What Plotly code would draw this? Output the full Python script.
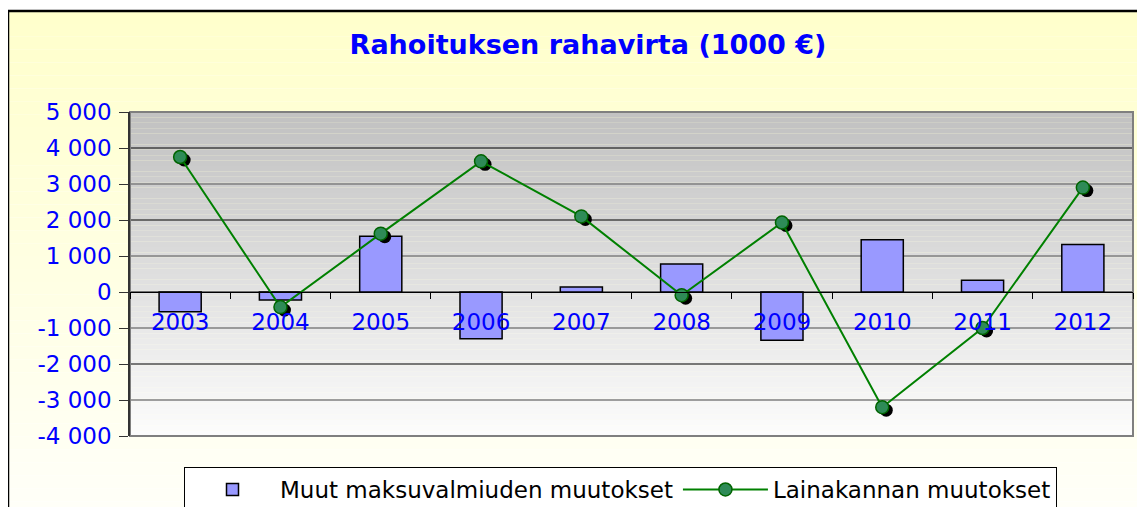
import plotly.graph_objects as go

# ---------------- data ----------------
years = ["2003", "2004", "2005", "2006", "2007", "2008", "2009", "2010", "2011", "2012"]
muut_maksuvalmius = [-550, -220, 1550, -1300, 140, 780, -1340, 1450, 325, 1320]
lainakanta = [3750, -420, 1620, 3630, 2100, -90, 1930, -3200, -1000, 2900]
y_tickvals = [-4000, -3000, -2000, -1000, 0, 1000, 2000, 3000, 4000, 5000]
y_ticktext = [f"{v:,}".replace(",", " ") for v in y_tickvals]
title_text = "Rahoituksen rahavirta (1000 €)"
name_bars = "Muut maksuvalmiuden muutokset"
name_line = "Lainakannan muutokset"

# ---------------- layout constants ----------------
# the page adds an 8px body margin, so the figure is drawn 8px smaller / shifted
OFF = 8
FIG_W, FIG_H = 1145 - OFF, 507 - OFF
PLOT_L, PLOT_R, PLOT_T, PLOT_B = 130 - OFF, 1133 - OFF, 112 - OFF, 436 - OFF
M_L, M_R, M_T, M_B = PLOT_L, FIG_W - PLOT_R, PLOT_T, FIG_H - PLOT_B
PW = PLOT_R - PLOT_L
PH = PLOT_B - PLOT_T
Y_MIN, Y_MAX = y_tickvals[0], y_tickvals[-1]
X_RANGE = [-0.5, len(years) - 0.5]

# shadow offset (pixels) converted into axis units
SH_DX = 4 / (PW / len(years))
SH_DY = 3 * (Y_MAX - Y_MIN) / PH

FONT = "DejaVu Sans"
BLUE = "#0000FF"

fig = go.Figure()

fig.add_trace(go.Bar(
    x=years, y=muut_maksuvalmius, name=name_bars,
    marker=dict(color="#9999FF", line=dict(color="black", width=1.5)),
    width=0.42, xaxis="x", yaxis="y",
))

# shadow of markers
fig.add_trace(go.Scatter(
    x=years, y=lainakanta, mode="markers", showlegend=False, hoverinfo="skip",
    marker=dict(color="black", size=13, line=dict(width=0)),
    xaxis="x2", yaxis="y2",
))

fig.add_trace(go.Scatter(
    x=years, y=lainakanta, name=name_line, mode="lines+markers",
    line=dict(color="#008000", width=2),
    marker=dict(color="#2E8B57", size=13, line=dict(color="#006400", width=1.5)),
    xaxis="x3", yaxis="y3",
))

shapes = []

# yellow chart-area gradient (paper coordinates)
n = 40
x0p = (0 - M_L) / PW
x1p = (FIG_W + 20 - M_L) / PW
y_top_p = (PLOT_B - (11 - OFF)) / PH
y_bot_p = (PLOT_B - (FIG_H + 20)) / PH
for i in range(n):
    t = i / (n - 1)
    c = (255, 255, int(204 + (250 - 204) * t))
    ya = y_top_p - (y_top_p - y_bot_p) * i / n
    yb = y_top_p - (y_top_p - y_bot_p) * (i + 1) / n
    shapes.append(dict(type="rect", xref="paper", yref="paper", x0=x0p, x1=x1p,
                       y0=yb, y1=ya, fillcolor=f"rgb{c}", line=dict(width=0), layer="below"))
shapes.append(dict(type="rect", xref="paper", yref="paper", x0=x0p, x1=x1p,
                   y0=y_bot_p, y1=y_top_p, fillcolor="rgba(0,0,0,0)",
                   line=dict(color="black", width=2.5), layer="below"))

# gray plot-area gradient
m = 60
for i in range(m):
    t = i / (m - 1)
    g = int(194 + (252 - 194) * t)
    shapes.append(dict(type="rect", xref="x domain", yref="y domain", x0=0, x1=1,
                       y0=1 - (i + 1) / m, y1=1 - i / m,
                       fillcolor=f"rgb({g},{g},{g})", line=dict(width=0), layer="below"))

# gridlines: black at even thousands, gray at odd
for v in y_tickvals[1:-1]:
    col = "black" if (v // 1000) % 2 == 0 else "#7f7f7f"
    shapes.append(dict(type="line", xref="x domain", yref="y", x0=0, x1=1, y0=v, y1=v,
                       line=dict(color=col, width=1.5 if col != "black" else 1.2), layer="below"))

# plot border
shapes.append(dict(type="rect", xref="x domain", yref="y domain", x0=0, x1=1, y0=0, y1=1,
                   line=dict(color="#7f7f7f", width=2), fillcolor="rgba(0,0,0,0)", layer="below"))

zero_pos = (0 - Y_MIN) / (Y_MAX - Y_MIN)

fig.update_layout(
    width=FIG_W, height=FIG_H,
    margin=dict(l=M_L, r=M_R, t=M_T, b=M_B, autoexpand=False),
    paper_bgcolor="white", plot_bgcolor="rgba(0,0,0,0)",
    shapes=shapes,
    title=dict(text=title_text, x=(588 - OFF) / FIG_W, xanchor="center",
               y=1 - (45 - OFF) / FIG_H, yanchor="middle",
               font=dict(family=FONT, size=27, color=BLUE, weight="bold")),
    xaxis=dict(type="category", range=X_RANGE, anchor="free", position=zero_pos,
               showgrid=False, showline=True, linecolor="black", linewidth=1.2,
               ticks="outside", tickson="boundaries", ticklen=6, tickcolor="black",
               tickfont=dict(family=FONT, size=23, color=BLUE), ticklabelstandoff=9,
               automargin=False, fixedrange=True),
    yaxis=dict(range=[Y_MIN, Y_MAX], tickvals=y_tickvals, ticktext=y_ticktext,
               showgrid=False, zeroline=False, showline=True, linecolor="#333333", linewidth=1.5,
               ticks="outside", ticklen=9, tickcolor="#333333", automargin=False,
               ticklabelstandoff=3,
               tickfont=dict(family=FONT, size=23, color=BLUE)),
    xaxis2=dict(type="category", overlaying="x", anchor="y2",
                range=[X_RANGE[0] - SH_DX, X_RANGE[1] - SH_DX], visible=False),
    yaxis2=dict(overlaying="y", anchor="x2", range=[Y_MIN + SH_DY, Y_MAX + SH_DY], visible=False),
    xaxis3=dict(type="category", overlaying="x", anchor="y3", range=X_RANGE, visible=False),
    yaxis3=dict(overlaying="y", anchor="x3", range=[Y_MIN, Y_MAX], visible=False),
    showlegend=True,
    legend=dict(orientation="h", xref="container", yref="container",
                x=(184 - OFF) / FIG_W, xanchor="left",
                y=1 - (467 - OFF) / FIG_H, yanchor="top",
                bgcolor="white", bordercolor="black", borderwidth=1,
                font=dict(family=FONT, size=23, color="black"),
                itemwidth=85),
)

fig.write_html("out.html")
